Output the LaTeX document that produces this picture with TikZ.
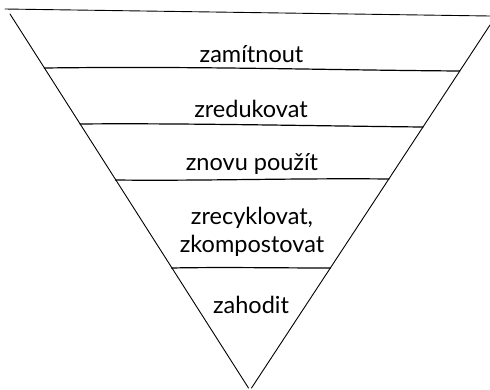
\documentclass[tikz,border=0pt]{standalone}
\usepackage{fontspec}
\setmainfont{Lato}
\begin{document}
\begin{tikzpicture}[x=1pt,y=-1pt,
  edge/.style={line width=0.9pt, line cap=round, black},
  band/.style={line width=1.2pt, line cap=round, black},
  label/.style={anchor=base, inner sep=0pt, font=\fontsize{23.5}{28}\selectfont, align=center}]
\useasboundingbox (0,0) rectangle (490,389);
% outline corners
\coordinate (TL) at (5,9);
\coordinate (TR) at (490,16);
\coordinate (SL) at (10,14);
\coordinate (SR) at (490,25);
\coordinate (AL) at (248.5,388);
\coordinate (AR) at (251.5,388);
% band divider end points
\coordinate (L1) at (44.3,68);   \coordinate (R1) at (459.8,71);
\coordinate (L2) at (79.9,124);  \coordinate (R2) at (423.0,127);
\coordinate (L3) at (115.5,180); \coordinate (R3) at (388.9,179);
\coordinate (L4) at (171.5,268); \coordinate (R4) at (330.4,268);
% outline
\draw[edge] (TL) -- (TR);
\draw[edge] (SL) -- (AL);
\draw[edge] (SR) -- (AR);
% dividers
\draw[band] (L1) .. controls (200,66) and (320,70) .. (R1);
\draw[band] (L2) .. controls (180,123) and (320,126) .. (R2);
\draw[band] (L3) .. controls (200,181) and (300,178) .. (R3);
\draw[band] (L4) .. controls (220,267) and (280,268) .. (R4);
% labels
\node[label] (n1) at (251.5,62) {zamítnout};
\node[label] (n2) at (251,117) {zredukovat};
\node[label] (n3) at (252,170) {znovu použít};
\node[label] (n4) at (252,252) {zrecyklovat,\\zkompostovat};
\node[label] (n5) at (251,313) {zahodit};
\end{tikzpicture}
\end{document}
